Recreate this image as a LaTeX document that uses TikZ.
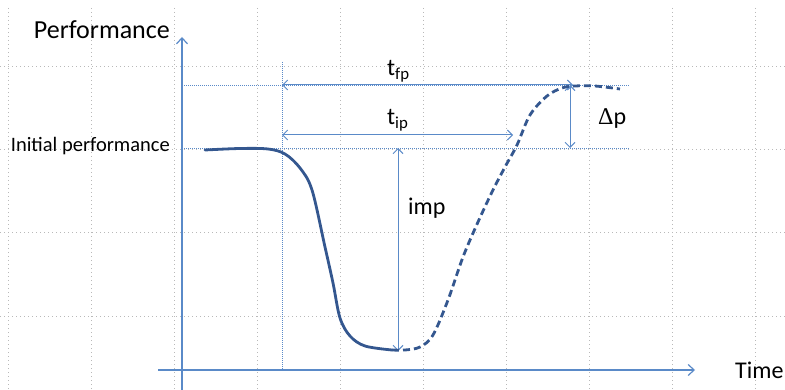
\documentclass[tikz,border=0pt]{standalone}
\usepackage{fontspec}
\setmainfont{Carlito}
\newfontfamily\symfont{Liberation Serif}
\usetikzlibrary{arrows.meta}
\definecolor{axisblue}{RGB}{90,138,200}
\definecolor{curveblue}{RGB}{52,87,143}
\begin{document}
\begin{tikzpicture}[x=1pt,y=-1pt,
  gridline/.style={gray!55, line width=1pt, dash pattern=on 1pt off 3pt},
  axisline/.style={axisblue, line width=1.2pt, -{Straight Barb[length=6pt,width=11pt]}},
  guide/.style={axisblue, line width=0.9pt, dash pattern=on 1pt off 1pt},
  dimline/.style={axisblue, line width=1pt, {Straight Barb[length=5pt,width=10pt]}-{Straight Barb[length=5pt,width=10pt]}},
  lbl/.style={inner sep=0pt, font=\fontsize{24}{28}\selectfont},
  biglbl/.style={inner sep=0pt, font=\fontsize{26}{30}\selectfont},
  smalllbl/.style={inner sep=0pt, font=\fontsize{20.5}{24}\selectfont},
  curvesolid/.style={curveblue, line width=2.8pt, line cap=round},
  curvedashed/.style={curveblue, line width=2.8pt, dash pattern=on 7pt off 4pt}]
\useasboundingbox (0,0) rectangle (785,390);
% grid
\foreach \gx in {8,91,174,257,340,423,506,589,672,755}
  \draw[gridline] (\gx,8) -- (\gx,390);
\foreach \gy in {67,150,233,317}
  \draw[gridline] (0,\gy) -- (785,\gy);
% coordinates
\coordinate (ybot) at (182,390);
\coordinate (ytop) at (182,37);
\coordinate (xl) at (158,370);
\coordinate (xr) at (695,370);
\coordinate (vtop) at (282,62);
\coordinate (vbot) at (282,370);
\coordinate (hfl) at (182,85);
\coordinate (hfr) at (630,85);
\coordinate (hil) at (182,148);
\coordinate (hir) at (630,148);
\coordinate (fpl) at (282,85);
\coordinate (fpr) at (573,85);
\coordinate (ipl) at (282,135);
\coordinate (ipr) at (513,135);
\coordinate (dpt) at (570,85);
\coordinate (dpb) at (570,148);
\coordinate (impt) at (398,148);
\coordinate (impb) at (398,351);
% guides
\draw[guide] (vtop) -- (vbot);
\draw[guide] (hfl) -- (hfr);
\draw[guide] (hil) -- (hir);
% axes
\draw[axisline] (ybot) -- (ytop);
\draw[axisline] (xl) -- (xr);
% dimension arrows
\draw[dimline] (fpl) -- (fpr);
\draw[dimline] (ipl) -- (ipr);
\draw[dimline] (dpt) -- (dpb);
\draw[dimline] (impt) -- (impb);
% curve
\draw[curvesolid] plot[smooth, tension=0.55] coordinates {(205,150) (240,148.5) (268,149) (285,154) (300,168) (312,190) (325,247) (333,283) (340,318) (350,336) (365,346) (392,350)};
\draw[curvedashed] plot[smooth, tension=0.55] coordinates {(392,350) (405,350) (420,347) (433,335) (448,300) (463,257) (478,222) (493,190) (505,167) (517,145) (530,115) (547,96) (562,88) (575,86) (595,86) (620,89)};
% labels
\node[biglbl, anchor=base east] (perf) at (170,39) {Performance};
\node[smalllbl, anchor=base east] (init) at (170,152) {Initial performance};
\node[lbl, anchor=base west] (tfp) at (387,76) {t\textsubscript{fp}};
\node[lbl, anchor=base west] (tip) at (387,125) {t\textsubscript{ip}};
\node[lbl, anchor=base west] (dp) at (598,125) {{\symfont Δ}p};
\node[lbl, anchor=base west] (imp) at (408,215) {imp};
\node[lbl, anchor=base west] (time) at (735,378) {Time};
\end{tikzpicture}
\end{document}
